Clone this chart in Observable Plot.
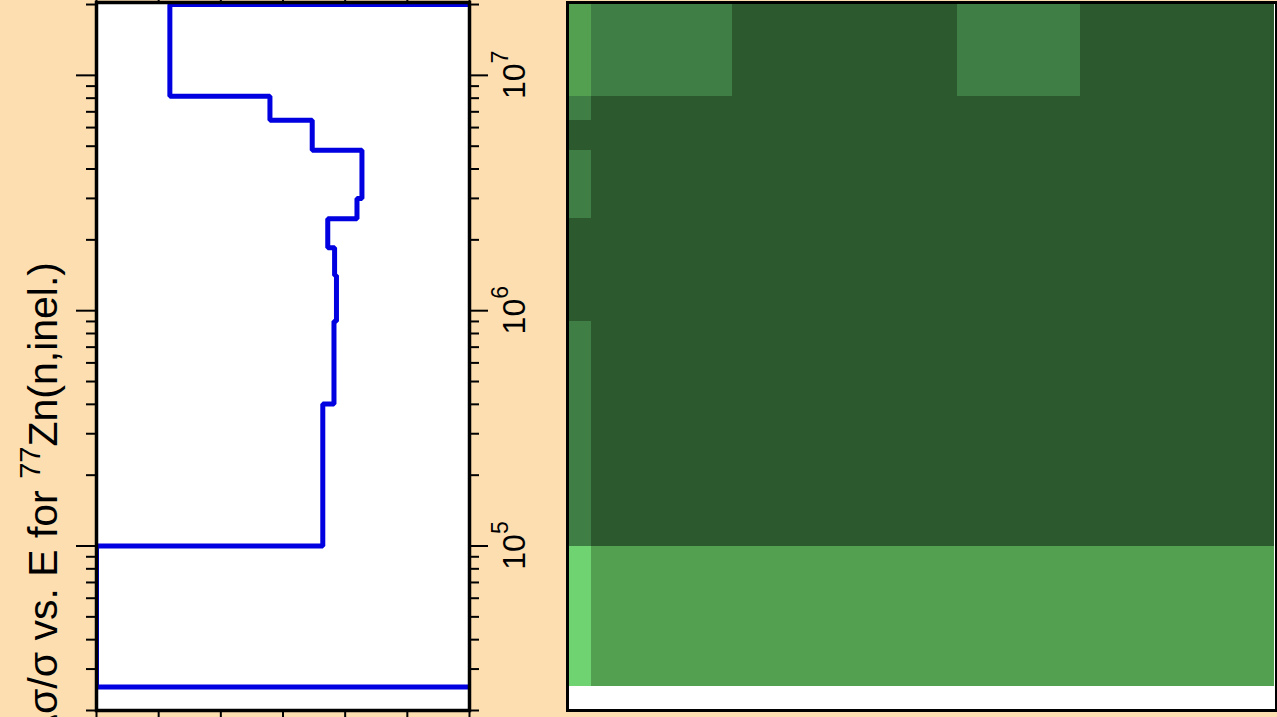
<!DOCTYPE html>
<html><head><meta charset="utf-8">
<script src="https://cdn.jsdelivr.net/npm/d3@7"></script>
<script src="https://cdn.jsdelivr.net/npm/@observablehq/plot@0.6"></script>
<style>
html,body{margin:0;padding:0;background:#fddeb0;overflow:hidden;}
#wrap{position:relative;width:1277px;height:717px;background:#fddeb0;font-family:"Liberation Sans",Arial,sans-serif;}
#left{position:absolute;left:0;top:0;}
#right{position:absolute;left:560px;top:0;}
svg{overflow:visible;}
</style></head><body><div id="wrap"><div id="left"></div><div id="right"></div></div>
<script>
// ---- data ----
// energy group boundaries (eV), ascending
const groupEdges = [2.52e4, 1.0e5, 4.01e5, 9.02e5, 1.41e6, 1.85e6, 2.46e6, 3.0e6, 4.81e6, 6.44e6, 8.16e6, 2.0e7];
// relative uncertainty (%) per group, ascending energy
const relUnc = [0, 36.4, 38.2, 38.6, 38.3, 37.2, 41.9, 42.7, 34.7, 27.9, 11.8];
// value outside the displayed groups (drawn off-scale, clipped)
const outerUnc = 100;
// correlation matrix columns (eV)
const colEdges = [2.0e4, 2.52e4, 1.0e5, 9.02e5, 3.0e6, 2.0e7];
// correlation level per (row group ascending, column)
const corrLevels = [
  [3, 2, 2, 2, 2],
  [1, 0, 0, 0, 0],
  [1, 0, 0, 0, 0],
  [0, 0, 0, 0, 0],
  [0, 0, 0, 0, 0],
  [0, 0, 0, 0, 0],
  [1, 0, 0, 0, 0],
  [1, 0, 0, 0, 0],
  [0, 0, 0, 0, 0],
  [1, 0, 0, 0, 0],
  [2, 1, 0, 1, 0]
];
const levelColors = ["#2c5a2e", "#3f7e44", "#52a050", "#6fd372"];
const xTicks = [0, 10, 20, 30, 40, 50, 60];
const majorE = [1e5, 1e6, 1e7];
const majorExp = ["5", "6", "7"];
const minorE = [2e4,3e4,4e4,5e4,6e4,7e4,8e4,9e4,2e5,3e5,4e5,5e5,6e5,7e5,8e5,9e5,2e6,3e6,4e6,5e6,6e6,7e6,8e6,9e6,2e7];
const yTitleMain = "Δσ/σ vs. E for ";
const yTitleSup = "77";
const yTitleEnd = "Zn(n,inel.)";

// ---- step path ----
const stepPts = [];
stepPts.push({x: outerUnc, y: groupEdges[groupEdges.length - 1]});
for (let i = relUnc.length - 1; i >= 0; i--) {
  stepPts.push({x: relUnc[i], y: groupEdges[i + 1]});
  stepPts.push({x: relUnc[i], y: groupEdges[i]});
}
stepPts.push({x: outerUnc, y: groupEdges[0]});

const yDomain = [2.0e4, 2.04e7];
const noLabel = () => "";

const left = Plot.plot({
  width: 560, height: 717,
  marginLeft: 96, marginRight: 91, marginTop: 2, marginBottom: 7,
  style: {background: "transparent", fontFamily: "Liberation Sans, Arial, sans-serif"},
  x: {domain: [0, 60], label: null},
  y: {type: "log", domain: yDomain, label: null},
  marks: [
    Plot.frame({fill: "white", stroke: null}),
    Plot.line(stepPts, {x: "x", y: "y", stroke: "#0000e0", strokeWidth: 5, strokeLinejoin: "miter", clip: true}),
    Plot.frame({stroke: "black", strokeWidth: 3.5}),
    Plot.axisX({anchor: "bottom", ticks: xTicks, tickSize: 7, tickFormat: noLabel, strokeWidth: 2, label: null}),
    Plot.axisX({anchor: "top", ticks: xTicks, tickSize: 4, tickFormat: noLabel, strokeWidth: 2, label: null}),
    Plot.axisY({anchor: "left", ticks: majorE, tickSize: 20, tickFormat: noLabel, strokeWidth: 2, label: null}),
    Plot.axisY({anchor: "left", ticks: minorE, tickSize: 10, tickFormat: noLabel, strokeWidth: 2, label: null}),
    Plot.axisY({anchor: "right", ticks: majorE, tickSize: 18, tickFormat: noLabel, strokeWidth: 2, label: null}),
    Plot.axisY({anchor: "right", ticks: minorE, tickSize: 9, tickFormat: noLabel, strokeWidth: 2, label: null})
  ]
});
document.getElementById("left").appendChild(left);

// right-axis labels with superscripts, placed with the plot's own y scale
const yS = left.scale("y");
const sv = d3.select(left);
majorE.forEach((e, i) => {
  const t = sv.append("text")
    .attr("transform", `translate(525,${yS.apply(e)}) rotate(-90)`)
    .attr("text-anchor", "middle")
    .attr("font-size", 32).attr("fill", "black")
    .attr("font-family", "Liberation Sans, Arial, sans-serif");
  t.append("tspan").text("10");
  t.append("tspan").attr("dy", -17).attr("font-size", 23).text(majorExp[i]);
});
// y-axis title
const tt = sv.append("text")
  .attr("transform", "translate(57,262) rotate(-90)")
  .attr("text-anchor", "end")
  .attr("font-size", 41).attr("fill", "black")
  .attr("font-family", "Liberation Sans, Arial, sans-serif");
tt.append("tspan").text(yTitleMain);
tt.append("tspan").attr("dy", -17).attr("font-size", 29).text(yTitleSup);
tt.append("tspan").attr("dy", 17).text(yTitleEnd);

// ---- heatmap ----
const cells = [];
corrLevels.forEach((row, r) => row.forEach((lv, c) => {
  cells.push({x1: colEdges[c], x2: colEdges[c + 1], y1: groupEdges[r], y2: groupEdges[r + 1], level: lv});
}));

const right = Plot.plot({
  width: 717, height: 717,
  marginLeft: 7, marginRight: 1, marginTop: 2, marginBottom: 7,
  style: {background: "transparent"},
  x: {type: "log", domain: [2.0e4, 2.04e7], axis: null},
  y: {type: "log", domain: yDomain, axis: null},
  color: {type: "ordinal", domain: [0, 1, 2, 3], range: levelColors},
  marks: [
    Plot.frame({fill: "white", stroke: null}),
    Plot.rect(cells, {x1: "x1", x2: "x2", y1: "y1", y2: "y2", fill: "level", inset: 0, shapeRendering: "crispEdges", clip: true}),
    Plot.frame({stroke: "black", strokeWidth: 3})
  ]
});
document.getElementById("right").appendChild(right);
</script>
</body></html>
